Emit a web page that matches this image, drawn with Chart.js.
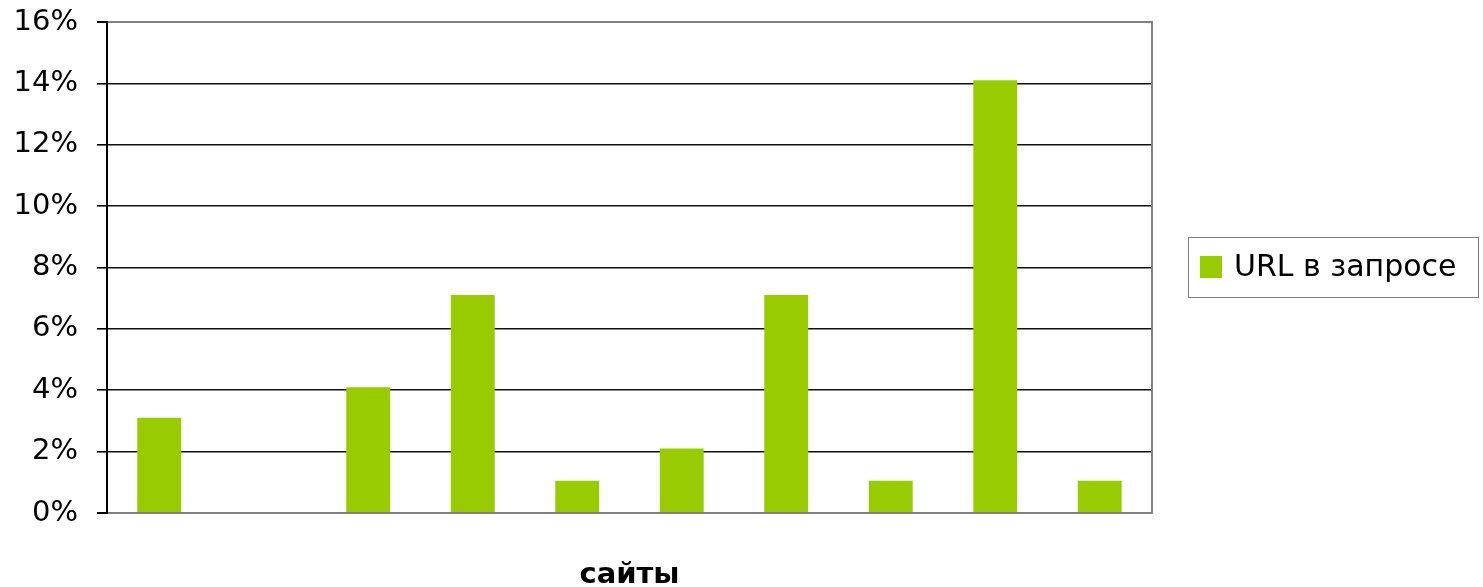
<!DOCTYPE html>
<html>
<head>
<meta charset="utf-8">
<script src="https://cdn.jsdelivr.net/npm/chart.js@4"></script>
<style>
html,body{margin:0;padding:0;background:#fff;}
#c{display:block;}
</style>
</head>
<body>
<canvas id="c" width="1483" height="587"></canvas>
<script>
const categories = ['1','2','3','4','5','6','7','8','9','10'];
const seriesLabel = 'URL в запросе';
const seriesValues = [3.1, 0, 4.1, 7.1, 1.05, 2.1, 7.1, 1.05, 14.1, 1.05];
const yTicks = [0, 2, 4, 6, 8, 10, 12, 14, 16];
const axisTitle = 'сайты';
const barColor = '#99CC00';
const FONT = '"DejaVu Sans", "Liberation Sans", Arial, sans-serif';

const frame = {
  id: 'frame',
  afterDraw(chart) {
    const {ctx, chartArea} = chart;
    ctx.save();
    // right border
    ctx.strokeStyle = '#808080';
    ctx.lineWidth = 2;
    ctx.beginPath();
    ctx.moveTo(chartArea.right, chartArea.top - 1);
    ctx.lineTo(chartArea.right, chartArea.bottom);
    ctx.stroke();
    // legend
    const bx = chartArea.right + 36, by = chartArea.top + 215, bw = 290, bh = 60;
    ctx.lineWidth = 1;
    ctx.strokeStyle = '#808080';
    ctx.strokeRect(bx + 0.5, by + 0.5, bw, bh);
    ctx.fillStyle = chart.data.datasets[0].backgroundColor;
    ctx.fillRect(bx + 12, by + 19, 22, 22);
    ctx.fillStyle = '#000';
    ctx.font = '30px ' + FONT;
    ctx.textBaseline = 'middle';
    ctx.textAlign = 'left';
    ctx.fillText(chart.data.datasets[0].label, bx + 46, by + 31);
    ctx.restore();
  }
};

new Chart(document.getElementById('c'), {
  type: 'bar',
  data: {
    labels: categories,
    datasets: [{
      label: seriesLabel,
      data: seriesValues,
      backgroundColor: barColor,
      borderWidth: 0,
      barPercentage: 0.42,
      categoryPercentage: 1.0
    }]
  },
  options: {
    responsive: false,
    animation: false,
    devicePixelRatio: 1,
    layout: { padding: { top: 22, right: 331, left: 0, bottom: 0 } },
    plugins: { legend: { display: false }, tooltip: { enabled: false } },
    scales: {
      x: {
        grid: { display: false },
        border: { display: true, color: '#808080', width: 2 },
        ticks: { display: false },
        title: {
          display: true,
          text: axisTitle,
          color: '#000',
          font: { family: FONT, size: 29, weight: 'bold', lineHeight: 0.8 },
          padding: { top: 0, bottom: 0 }
        },
        afterFit(scale) { scale.height = 74; scale.paddingLeft = 0; scale.paddingRight = 0; }
      },
      y: {
        min: 0,
        max: 16,
        afterBuildTicks(scale) { scale.ticks = yTicks.map(v => ({ value: v })); },
        ticks: {
          color: '#000',
          padding: 19,
          font: { family: FONT, size: 29 },
          callback: v => v + '%'
        },
        grid: {
          color: c => (c.tick && (c.tick.value === 0 || c.tick.value === 16)) ? '#808080' : '#111',
          lineWidth: c => (c.tick && (c.tick.value === 0 || c.tick.value === 16)) ? 2 : 1.6,
          tickColor: '#000',
          tickLength: 10,
          drawTicks: true
        },
        border: { display: true, color: '#000', width: 2 },
        afterFit(scale) { scale.width = 107; scale.paddingTop = 0; scale.paddingBottom = 0; }
      }
    }
  },
  plugins: [frame]
});
</script>
</body>
</html>
